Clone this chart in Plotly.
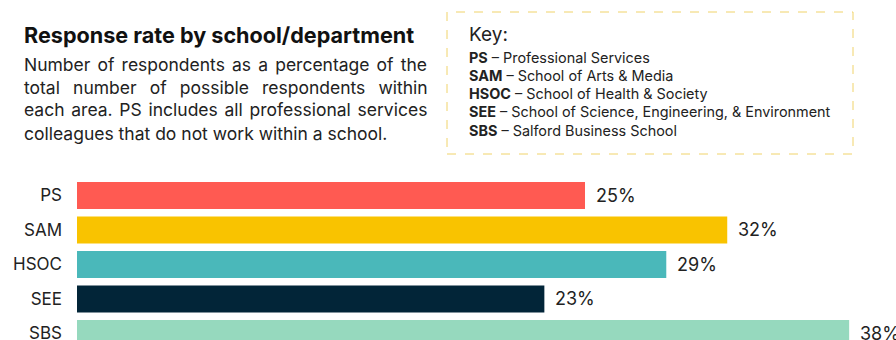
import plotly.graph_objects as go

categories = ["PS", "SAM", "HSOC", "SEE", "SBS"]
values = [25, 32, 29, 23, 38]
colors = ["#FF5A52", "#F9C300", "#4AB8BA", "#022538", "#96D9BE"]

title_text = "Response rate by school/department"
para_lines = [
    "Number of respondents as a percentage of the",
    "total number of possible respondents within",
    "each area. PS includes all professional services",
    "colleagues that do not work within a school.",
]
para_word_spacing = [2.2, 8.2, 1.8, 0]
key_title = "Key:"
key_abbr = ["PS", "SAM", "HSOC", "SEE", "SBS"]
key_names = [
    "Professional Services",
    "School of Arts & Media",
    "School of Health & Society",
    "School of Science, Engineering, & Environment",
    "Salford Business School",
]

W, H = 896, 340
FONT = "Inter"
TXT = "#222222"


def px(x):
    return x / W


def py(y):
    return (H - y) / H


fig = go.Figure()
fig.add_trace(go.Bar(
    x=values, y=categories, orientation="h",
    marker=dict(color=colors, line=dict(width=0)),
    width=0.78, hoverinfo="skip",
))

annotations = []
for c, v in zip(categories, values):
    annotations.append(dict(
        x=v, y=c, xref="x", yref="y", text=f"{v}%", showarrow=False,
        xanchor="left", yanchor="middle", xshift=9,
        font=dict(family=FONT, size=18, color=TXT),
    ))

annotations.append(dict(
    x=px(22), y=py(35), xref="paper", yref="paper", text=f"<b>{title_text}</b>",
    showarrow=False, xanchor="left", yanchor="middle",
    font=dict(family=FONT, size=21.6, color="#111111"),
))
for i, (line, ws) in enumerate(zip(para_lines, para_word_spacing)):
    txt = f'<span style="word-spacing:{ws}px">{line}</span>' if ws else line
    annotations.append(dict(
        x=px(22), y=py(64 + 23 * i), xref="paper", yref="paper", text=txt,
        showarrow=False, xanchor="left", yanchor="middle",
        font=dict(family=FONT, size=17.5, color=TXT),
    ))

annotations.append(dict(
    x=px(467), y=py(35), xref="paper", yref="paper", text=key_title,
    showarrow=False, xanchor="left", yanchor="middle",
    font=dict(family=FONT, size=19, color=TXT),
))
for i, (a, n) in enumerate(zip(key_abbr, key_names)):
    annotations.append(dict(
        x=px(467), y=py(57.5 + 18.2 * i), xref="paper", yref="paper",
        text=f"<b>{a}</b> – {n}",
        showarrow=False, xanchor="left", yanchor="middle",
        font=dict(family=FONT, size=14.4, color=TXT),
    ))

shapes = [dict(
    type="rect", xref="paper", yref="paper",
    x0=px(447), x1=px(853), y0=py(154), y1=py(12),
    line=dict(color="#F0D36A", width=1, dash="dash"),
    fillcolor="rgba(0,0,0,0)",
)]

fig.update_layout(
    width=W, height=H,
    margin=dict(l=0, r=0, t=0, b=0),
    paper_bgcolor="white", plot_bgcolor="white",
    showlegend=False,
    bargap=0.22,
    xaxis=dict(domain=[px(77), px(889.8)], range=[0, 40], visible=False, fixedrange=True),
    yaxis=dict(domain=[0, 162 / H], range=[4.19, -0.506], showgrid=False,
               zeroline=False, showline=False, ticks="", ticklabelstandoff=14,
               tickfont=dict(family=FONT, size=17, color=TXT), automargin=False,
               fixedrange=True),
    annotations=annotations,
    shapes=shapes,
)

fig.write_html("out.html")
